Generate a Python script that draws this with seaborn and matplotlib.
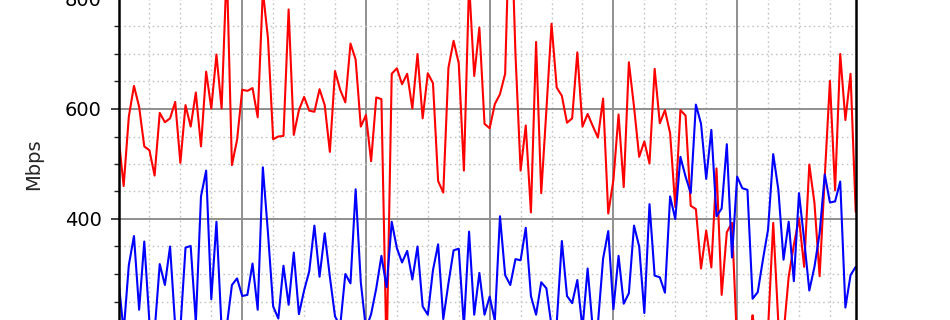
import numpy as np
import pandas as pd
import matplotlib
matplotlib.use("Agg")
import matplotlib.pyplot as plt
from matplotlib.ticker import MultipleLocator, FixedLocator
import seaborn as sns

# ---- data (hourly throughput, Mbps) ----
hours = list(range(144))
series_names = ["red", "blue"]
y_tick_values = [400, 600, 800]

red_mbps = [
    550, 460, 586, 642, 604, 532, 525, 479, 593, 576, 583, 613, 502, 607, 568, 630,
    532, 668, 601, 699, 601, 860, 498, 544, 635, 633, 638, 585, 815, 728, 545, 550,
    551, 781, 553, 598, 622, 597, 595, 636, 607, 522, 669, 635, 612, 719, 690, 568,
    589, 505, 621, 618, 150, 664, 674, 645, 664, 601, 700, 583, 665, 647, 469, 448,
    675, 724, 683, 488, 830, 660, 748, 573, 565, 609, 627, 664, 1000, 700, 488, 570,
    412, 722, 447, 598, 755, 639, 624, 575, 583, 703, 568, 591, 569, 548, 619, 410,
    471, 590, 458, 685, 604, 513, 541, 501, 673, 574, 598, 556, 422, 598, 588, 424,
    418, 310, 379, 312, 492, 262, 376, 393, 170, 140, 160, 225, 160, 190, 200, 393,
    210, 190, 295, 353, 401, 313, 499, 429, 296, 477, 651, 452, 700, 580, 664, 413,
]

blue_mbps = [
    289, 195, 316, 369, 235, 359, 212, 195, 318, 280, 350, 205, 200, 348, 351, 212,
    441, 488, 254, 395, 200, 205, 280, 292, 260, 262, 319, 235, 494, 374, 241, 219,
    315, 244, 339, 227, 270, 305, 388, 295, 374, 295, 223, 205, 300, 283, 454, 285,
    200, 227, 274, 333, 276, 395, 347, 321, 342, 290, 350, 241, 226, 307, 354, 218,
    283, 343, 346, 205, 377, 226, 302, 226, 259, 215, 405, 298, 280, 327, 325, 384,
    260, 226, 285, 274, 205, 210, 360, 260, 247, 289, 200, 310, 200, 210, 328, 378,
    236, 333, 246, 265, 388, 350, 229, 427, 297, 294, 266, 441, 400, 513, 477, 447,
    608, 573, 473, 562, 405, 419, 536, 330, 477, 456, 453, 255, 267, 326, 381, 518,
    453, 326, 395, 287, 447, 362, 270, 313, 374, 481, 430, 432, 468, 239, 298, 313,
]

df = pd.DataFrame({
    "hour": hours * 2,
    "Mbps": red_mbps + blue_mbps,
    "series": ["red"] * len(hours) + ["blue"] * len(hours),
})

sns.set_style("white")
plt.rcParams["font.family"] = ["DejaVu Sans"]

W, H = 950, 320
fig = plt.figure(figsize=(W / 100, H / 100), dpi=100)

# axes extends beyond the visible canvas (the view is a crop of a taller chart)
y_top_px, y_bot_px = -111, 439      # pixel rows of ylim 1000 and 0
x_left_px, x_right_px = 118.5, 855.7
ax = fig.add_axes([
    x_left_px / W,
    (H - y_bot_px) / H,
    (x_right_px - x_left_px) / W,
    (y_bot_px - y_top_px) / H,
])

sns.lineplot(data=df, x="hour", y="Mbps", hue="series", hue_order=series_names,
             palette={"red": "#ff0000", "blue": "#0000ff"}, estimator=None,
             linewidth=1.5, legend=False, ax=ax)

ax.set_xlim(0, 143)
ax.set_ylim(0, 1000)
ax.xaxis.set_major_locator(MultipleLocator(24))
ax.xaxis.set_minor_locator(MultipleLocator(6))
ax.yaxis.set_major_locator(FixedLocator(y_tick_values))
ax.yaxis.set_minor_locator(MultipleLocator(50))

ax.grid(which="major", color="#8f8f8f", linewidth=1.4, linestyle="-")
ax.grid(which="minor", color="#c4c4c4", linewidth=1.0, linestyle=(0, (1.2, 2.2)))
# major horizontal grid at 200 and 1000 are outside the visible crop anyway
ax.set_axisbelow(True)

for side in ["left", "right", "top", "bottom"]:
    ax.spines[side].set_color("black")
    ax.spines[side].set_linewidth(1.8)

ax.tick_params(axis="both", which="major", direction="out", length=6, width=1.2,
               labelsize=14, colors="#222222", labelcolor="black", pad=6,
               left=True, bottom=True)
ax.tick_params(axis="x", which="both", labelbottom=False)
ax.tick_params(axis="both", which="minor", direction="out", length=3.5, width=1.0,
               left=True, bottom=True, colors="#222222")

ax.set_xlabel("")
ax.set_ylabel("Mbps", fontsize=14)
ax.yaxis.set_label_coords(-0.102, 0.5)

fig.savefig("out.png", dpi=100)
